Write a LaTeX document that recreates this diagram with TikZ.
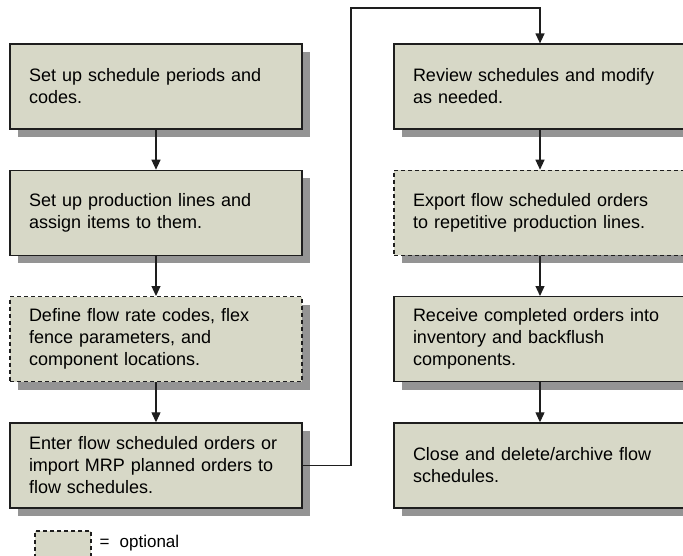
\documentclass[tikz,border=0pt]{standalone}
\usepackage{fontspec}
\setmainfont{Liberation Sans}
\usepackage{tikz}
\usetikzlibrary{positioning,arrows.meta,shadows}
\definecolor{boxfill}{RGB}{215,216,199}
\definecolor{boxshadow}{RGB}{148,148,148}
\definecolor{boxline}{RGB}{30,30,30}
\tikzset{x=1pt, y=-1pt}
\tikzstyle{stepbox}=[draw=boxline, line width=1.2pt, fill=boxfill, general shadow={fill=boxshadow, shadow xshift=8pt, shadow yshift=-8pt}, minimum width=292pt, minimum height=85pt, text width=254pt, inner xsep=19pt, align=left, font=\fontsize{18}{22}\selectfont]
\tikzstyle{optbox}=[stepbox, dash pattern=on 4pt off 3pt]
\tikzstyle{legend}=[draw=boxline, line width=1.2pt, fill=boxfill, dash pattern=on 4pt off 3pt, minimum width=56pt, minimum height=26pt]
\tikzstyle{arrow}=[-{Triangle[width=9pt,length=10pt]}, draw=boxline, line width=1.2pt]

\begin{document}
\begin{tikzpicture}[node distance=126.3pt, on grid]
  \useasboundingbox (0,0) rectangle (683,555);

  \node[stepbox] (step_1) at (156,86.5) {Set up schedule periods and\\codes.};
  \node[stepbox] (step_2) [below= of step_1] {Set up production lines and\\assign items to them.};
  \node[optbox]  (step_3) [below= of step_2] {Define flow rate codes, flex\\fence parameters, and\\component locations.};
  \node[stepbox] (step_4) [below= of step_3] {Enter flow scheduled orders or\\import MRP planned orders to\\flow schedules.};

  \node[stepbox] (step_5) [right= 384pt of step_1] {Review schedules and modify\\as needed.};
  \node[optbox]  (step_6) [below= of step_5] {Export flow scheduled orders\\to repetitive production lines.};
  \node[stepbox] (step_7) [below= of step_6] {Receive completed orders into\\inventory and backflush\\components.};
  \node[stepbox] (step_8) [below= of step_7] {Close and delete/archive flow\\schedules.};

  \draw[arrow] (step_1) -- (step_2);
  \draw[arrow] (step_2) -- (step_3);
  \draw[arrow] (step_3) -- (step_4);
  \coordinate (bend) at (351,8);
  \draw[arrow] (step_4.east) -| (bend) -| (step_5.north);
  \draw[arrow] (step_5) -- (step_6);
  \draw[arrow] (step_6) -- (step_7);
  \draw[arrow] (step_7) -- (step_8);

  % key for the dashed boxes
  \node[legend] (key) at (63,544) {};
  \node[anchor=base west, font=\fontsize{17}{20}\selectfont] (key_text) at (96,547) {=\hspace{0.6em}optional};
\end{tikzpicture}
\end{document}
